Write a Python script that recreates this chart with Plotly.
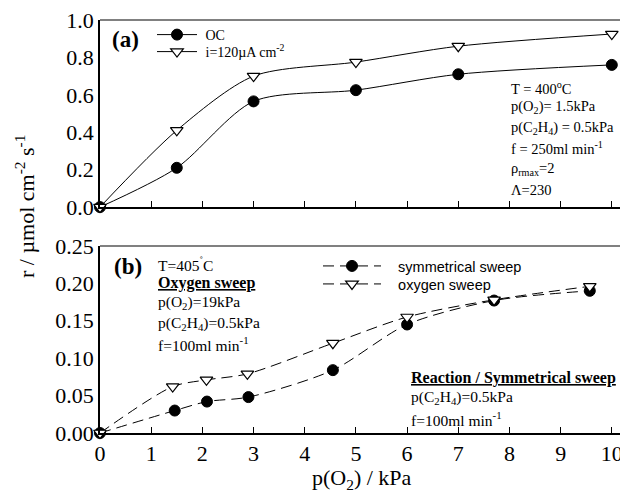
import plotly.graph_objects as go

# Panel (a)
a_x = [0, 1.5, 3.0, 5.0, 7.0, 10.0]
a_oc = [0.0, 0.21, 0.565, 0.625, 0.71, 0.76]
a_i120 = [0.0, 0.41, 0.70, 0.775, 0.86, 0.925]

# Panel (b)
b_x_sym = [0, 1.46, 2.09, 2.9, 4.55, 6.0, 7.7, 9.57]
b_sym = [0.0, 0.030, 0.042, 0.048, 0.084, 0.145, 0.177, 0.190]
b_x_oxy = [0, 1.42, 2.08, 2.88, 4.55, 6.0, 7.7, 9.57]
b_oxy = [0.0, 0.062, 0.071, 0.079, 0.120, 0.155, 0.178, 0.196]

x_ticks = list(range(0, 11))
ya_ticks = [0.0, 0.2, 0.4, 0.6, 0.8, 1.0]
yb_ticks = [0.00, 0.05, 0.10, 0.15, 0.20, 0.25]

SERIF = "Liberation Serif, Times New Roman, serif"
SANS = "Liberation Sans, Arial, sans-serif"
NB = "\u00a0"

fig = go.Figure()

circle = dict(symbol="circle", size=11, color="black", line=dict(color="black", width=1))
tri = dict(symbol="triangle-down", size=11, color="white", line=dict(color="black", width=1.2))

fig.add_trace(go.Scatter(x=a_x, y=a_oc, mode="lines+markers", name=NB + "OC",
                         line=dict(color="black", width=1, shape="spline", smoothing=0.8),
                         marker=circle, xaxis="x", yaxis="y", legend="legend", cliponaxis=False))
fig.add_trace(go.Scatter(x=a_x, y=a_i120, mode="lines+markers", name=NB + "i=120\u00b5A cm<sup>-2</sup>",
                         line=dict(color="black", width=1, shape="spline", smoothing=0.8),
                         marker=tri, xaxis="x", yaxis="y", legend="legend2", cliponaxis=False))
fig.add_trace(go.Scatter(x=b_x_sym, y=b_sym, mode="lines+markers", name=NB * 3 + "symmetrical sweep",
                         line=dict(color="black", width=1, dash="11px,6px", shape="spline", smoothing=0.8),
                         marker=circle, xaxis="x2", yaxis="y2", legend="legend3", cliponaxis=False))
fig.add_trace(go.Scatter(x=b_x_oxy, y=b_oxy, mode="lines+markers", name=NB * 3 + "oxygen sweep",
                         line=dict(color="black", width=1, dash="11px,6px", shape="spline", smoothing=0.8),
                         marker=tri, xaxis="x2", yaxis="y2", legend="legend4", cliponaxis=False))

axis_common = dict(showgrid=False, zeroline=False, showline=True, linecolor="black", linewidth=1.5,
                   ticklabeloverflow="allow", automargin=False)


def px_x(p):
    return (p - 100) / 520.0


def px_y(p):
    return (433 - p) / 413.0


def leg(x_left, y_center, family, size, itemwidth):
    return dict(x=px_x(x_left), y=px_y(y_center), xanchor="left", yanchor="middle",
                bgcolor="rgba(0,0,0,0)", font=dict(family=family, size=size),
                itemwidth=itemwidth, tracegroupgap=0)


xr = [0, 10.16]
fig.update_layout(
    width=620, height=495,
    margin=dict(l=100, r=0, t=20, b=62),
    paper_bgcolor="white", plot_bgcolor="white",
    showlegend=True,
    font=dict(family=SERIF, color="black"),
    xaxis=dict(domain=[0, 1], range=xr, anchor="y", tickvals=x_ticks, showticklabels=False,
               ticks="inside", ticklen=6, tickcolor="black", **axis_common),
    yaxis=dict(domain=[0.547, 1], range=[0, 1.0], tickvals=ya_ticks, ticktext=[f"{v:.1f}" for v in ya_ticks],
               ticks="", tickfont=dict(size=22, family=SERIF), anchor="x", **axis_common),
    xaxis2=dict(domain=[0, 1], range=xr, anchor="y2", tickvals=x_ticks,
                ticks="inside", ticklen=6, tickcolor="black", tickfont=dict(size=22, family=SERIF),
                **axis_common),
    yaxis2=dict(domain=[0, 0.453], range=[0, 0.25], tickvals=yb_ticks, ticktext=[f"{v:.2f}" for v in yb_ticks],
                ticks="", tickfont=dict(size=22, family=SERIF), anchor="x2", **axis_common),
    legend=leg(152, 35, SERIF, 14, 40),
    legend2=leg(152, 52, SERIF, 14, 40),
    legend3=leg(318, 266, SANS, 14.5, 58),
    legend4=leg(318, 284, SANS, 14.5, 58),
)

# gray top frame lines
for xr_, yr_ in [("x domain", "y domain"), ("x2 domain", "y2 domain")]:
    fig.add_shape(type="line", xref=xr_, yref=yr_, x0=0, x1=1, y0=1, y1=1,
                  line=dict(color="#808080", width=2))

ann = []


def A(text, x, y, size=15, family=SERIF, xanchor="left", xref="paper", yref="paper", **kw):
    ann.append(dict(text=text, x=x, y=y, xref=xref, yref=yref, xanchor=xanchor, yanchor="middle",
                    showarrow=False, font=dict(size=size, family=family, color="black"), **kw))


A("<b>(a)</b>", px_x(110), px_y(40), size=23)
A("<b>(b)</b>", px_x(112), px_y(266), size=23)

top_lines = ["T = 400<sup>o</sup>C", "p(O<sub>2</sub>)= 1.5kPa", "p(C<sub>2</sub>H<sub>4</sub>) = 0.5kPa",
             "f = 250ml min<sup>-1</sup>", "\u03c1<sub>rmax</sub>=2", "\u039b=230"]
for t, yy in zip(top_lines, [88, 107, 128, 148, 169, 190]):
    A(t, px_x(509), px_y(yy), size=14.5)

bl = ["T=405<sup>\u02da</sup>C", "<b><u>Oxygen sweep</u></b>", "p(O<sub>2</sub>)=19kPa",
      "p(C<sub>2</sub>H<sub>4</sub>)=0.5kPa", "f=100ml min<sup>-1</sup>"]
bl_sizes = [15.5, 16, 15.5, 15.5, 15.5]
for t, yy, s in zip(bl, [264, 283, 302, 323, 344], bl_sizes):
    A(t, px_x(156), px_y(yy), size=s)

br = ["<b><u>Reaction / Symmetrical sweep</u></b>", "p(C<sub>2</sub>H<sub>4</sub>)=0.5kPa", "f=100ml min<sup>-1</sup>"]
br_sizes = [16, 15.5, 15.5]
for t, yy, s in zip(br, [378, 397, 419], br_sizes):
    A(t, px_x(409), px_y(yy), size=s)

A("r / \u00b5mol cm<sup>-2</sup> s<sup>-1</sup>", px_x(25), px_y(207), size=22, xanchor="center", textangle=-90)
A("p(O<sub>2</sub>) / kPa", px_x(362), px_y(479), size=22, xanchor="center")

fig.update_layout(annotations=ann)
fig.write_html(
    "out.html",
    config={"displayModeBar": False},
    post_script="document.body.style.margin='0';document.body.style.overflow='hidden';"
                "document.documentElement.style.overflow='hidden';",
)
